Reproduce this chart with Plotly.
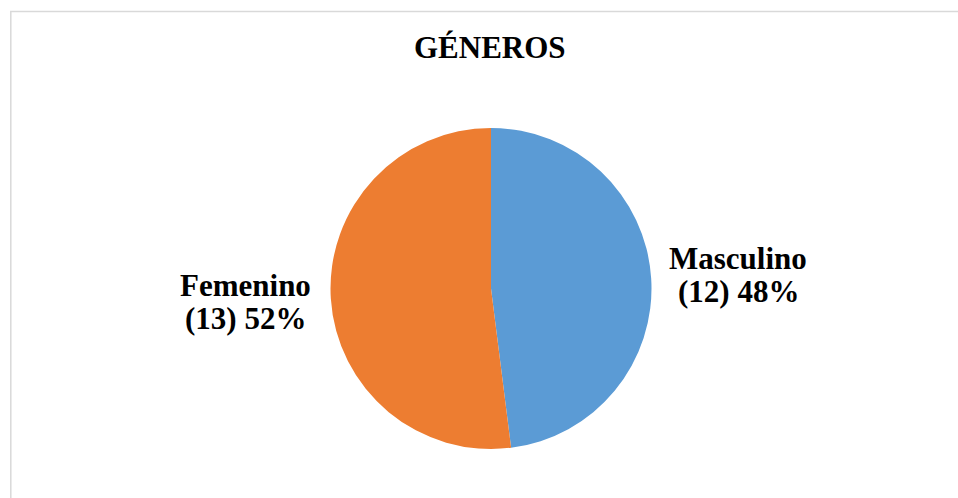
import plotly.graph_objects as go

labels = ["Masculino", "Femenino"]
values = [12, 13]
colors = ["#5B9BD5", "#ED7D31"]
title_text = "GÉNEROS"

W, H = 958, 498
total = sum(values)
pcts = [round(v * 100 / total) for v in values]

fig = go.Figure()
fig.add_trace(go.Pie(
    labels=labels, values=values, sort=False, direction="clockwise", rotation=0,
    marker=dict(colors=colors, line=dict(width=0)),
    textinfo="none", hoverinfo="label+value+percent", showlegend=False,
    domain=dict(x=[330.5 / W, 651.5 / W], y=[(H - 449) / H, (H - 128) / H]),
))

font = dict(family="Liberation Serif, Times New Roman, serif", size=31, color="#000000")
# label positions (px centers of each text line)
label_pos = {
    "Masculino": (738, 258, 291),
    "Femenino": (245, 285, 318),
}
ann = []
for lab, v, p in zip(labels, values, pcts):
    cx, y1, y2 = label_pos[lab]
    ann.append(dict(text=f"<b>{lab}</b>", x=cx / W, y=1 - y1 / H, xref="paper", yref="paper",
                    xanchor="center", yanchor="middle", showarrow=False, font=font))
    ann.append(dict(text=f"<b>({v}) {p}%</b>", x=cx / W, y=1 - y2 / H, xref="paper", yref="paper",
                    xanchor="center", yanchor="middle", showarrow=False, font=font))
ann.append(dict(text=f"<b>{title_text}</b>", x=490 / W, y=1 - 48 / H, xref="paper", yref="paper",
                xanchor="center", yanchor="middle", showarrow=False, font=font))

fig.update_layout(
    width=W, height=H, margin=dict(l=0, r=0, t=0, b=0),
    paper_bgcolor="white", plot_bgcolor="white",
    annotations=ann,
    shapes=[dict(type="rect", xref="paper", yref="paper",
                 x0=10.8 / W, x1=1.02, y0=-0.02, y1=1 - 11.5 / H,
                 line=dict(color="#D9D9D9", width=1.5), fillcolor="rgba(0,0,0,0)")],
)
fig.write_html("out.html")
